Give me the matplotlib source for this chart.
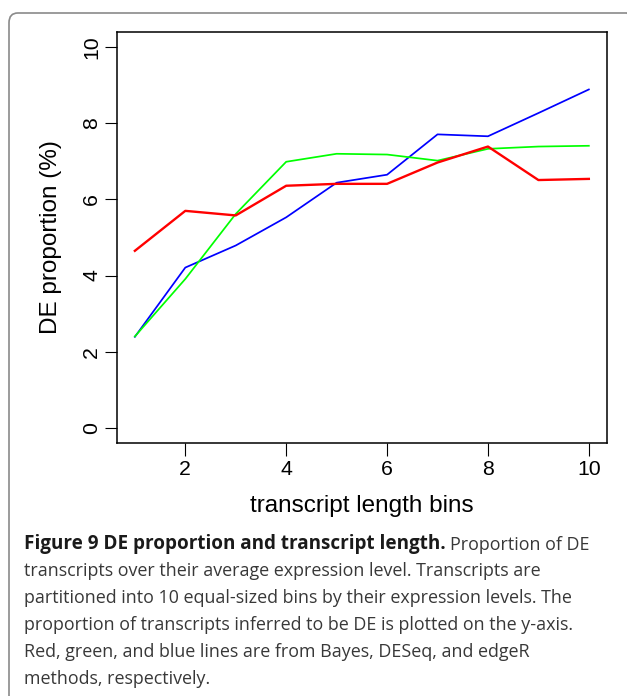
import matplotlib
matplotlib.use("Agg")
import matplotlib.pyplot as plt
from matplotlib.patches import FancyBboxPatch

# Proportion of DE transcripts (%) per transcript length bin
bins = [1, 2, 3, 4, 5, 6, 7, 8, 9, 10]
bayes = [4.65, 5.70, 5.58, 6.36, 6.41, 6.41, 6.97, 7.39, 6.51, 6.54]
deseq = [2.40, 3.91, 5.62, 6.99, 7.20, 7.18, 7.02, 7.33, 7.39, 7.41]
edger = [2.39, 4.21, 4.79, 5.53, 6.44, 6.65, 7.71, 7.66, 8.27, 8.89]

x_ticks = [2, 4, 6, 8, 10]
y_ticks = [0, 2, 4, 6, 8, 10]

caption_title = "Figure 9 DE proportion and transcript length."
caption_lines = [
    "Proportion of DE",
    "transcripts over their average expression level. Transcripts are",
    "partitioned into 10 equal-sized bins by their expression levels. The",
    "proportion of transcripts inferred to be DE is plotted on the y-axis.",
    "Red, green, and blue lines are from Bayes, DESeq, and edgeR",
    "methods, respectively.",
]

W, H = 627, 696
fig = plt.figure(figsize=(W / 100, H / 100), dpi=100)
fig.patch.set_facecolor("white")

# rounded frame around the whole figure panel
frame = FancyBboxPatch((9 / W, -0.2), 1.0, 1 - 13 / H + 0.2,
                       boxstyle="round,pad=0,rounding_size=0.014",
                       transform=fig.transFigure, facecolor="none",
                       edgecolor="#8a8a8a", linewidth=1.2, clip_on=False)
fig.add_artist(frame)

ax_left, ax_right, ax_top, ax_bottom = 116.7, 607, 32, 443
ax = fig.add_axes([ax_left / W, 1 - ax_bottom / H,
                   (ax_right - ax_left) / W, (ax_bottom - ax_top) / H])

chart_font = "Liberation Sans"
ax.plot(bins, edger, color="#0000FF", lw=1.25)
ax.plot(bins, deseq, color="#00FF00", lw=1.25)
ax.plot(bins, bayes, color="#FF0000", lw=1.7)

ax.set_xlim(0.64, 10.36)
ax.set_ylim(-0.4, 10.4)
ax.set_xticks(x_ticks)
ax.set_yticks(y_ticks)
ax.set_xticklabels([str(t) for t in x_ticks], fontname=chart_font, fontsize=15.3)
ax.set_yticklabels([str(t) for t in y_ticks], fontname=chart_font, fontsize=15.3,
                   rotation=90, va="center")
ax.tick_params(axis="both", direction="out", length=9, width=0.8, color="black")
ax.tick_params(axis="x", pad=3)
ax.tick_params(axis="y", pad=2.2)
for sp in ax.spines.values():
    sp.set_linewidth(1.1)
    sp.set_color("black")

plot_h = ax_bottom - ax_top
plot_w = ax_right - ax_left
ax.set_xlabel("transcript length bins", fontname=chart_font, fontsize=17.5,
              va="baseline")
ax.xaxis.set_label_coords(0.5, (ax_bottom - 512) / plot_h)
ax.set_ylabel("DE proportion (%)", fontname=chart_font, fontsize=17.5,
              va="baseline")
ax.yaxis.set_label_coords((57 - ax_left) / plot_w, 0.5)

# caption below the chart
cap_font = "Open Sans"
cap_size = 12.9
x0 = 24 / W
base0 = 549.5
step = 26.8
title = fig.text(x0, 1 - base0 / H, caption_title, fontname=cap_font,
                 fontsize=13.6, fontweight="bold", color="#1a1a1a",
                 va="baseline", ha="left")
ann = plt.annotate(caption_lines[0], xy=(1, 0), xycoords=title,
                   xytext=(3.4, 0), textcoords="offset points",
                   fontname=cap_font, fontsize=cap_size, color="#383838",
                   va="bottom", ha="left", annotation_clip=False)
for i, line in enumerate(caption_lines[1:], start=1):
    fig.text(x0, 1 - (base0 + step * i) / H, line, fontname=cap_font,
             fontsize=cap_size, color="#383838", va="baseline", ha="left")

fig.savefig("out.png", dpi=100)
